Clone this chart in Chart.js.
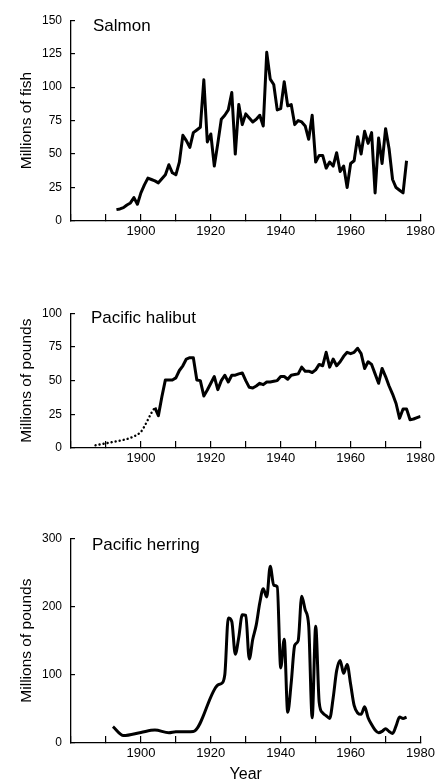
<!DOCTYPE html>
<html>
<head>
<meta charset="utf-8">
<script src="https://cdn.jsdelivr.net/npm/chart.js@4"></script>
<style>
  html, body { margin: 0; padding: 0; background: #fff; }
  body { width: 445px; height: 783px; position: relative; overflow: hidden; }
  canvas { position: absolute; left: 0; }
</style>
</head>
<body>
<canvas id="salmonChart" width="445" height="250" style="top:0px"></canvas>
<canvas id="halibutChart" width="445" height="184" style="top:293px"></canvas>
<canvas id="herringChart" width="445" height="265" style="top:518px"></canvas>
<script>
// Catch data (years, values)

const yearLabels = [1900, 1920, 1940, 1960, 1980];

const salmonYears = [1893, 1894, 1895, 1896, 1897, 1898, 1899, 1900, 1901, 1902, 1903, 1904, 1905, 1906, 1907, 1908, 1909, 1910,
    1911, 1912, 1913, 1914, 1915, 1916, 1917, 1918, 1919, 1920, 1921, 1922, 1923, 1924, 1925, 1926, 1927, 1928, 1929, 1930,
    1931, 1932, 1933, 1934, 1935, 1936, 1937, 1938, 1939, 1940, 1941, 1942, 1943, 1944, 1945, 1946, 1947, 1948, 1949, 1950,
    1951, 1952, 1953, 1954, 1955, 1956, 1957, 1958, 1959, 1960, 1961, 1962, 1963, 1964, 1965, 1966, 1967, 1968, 1969, 1970,
    1971, 1972, 1973, 1974, 1975, 1976];
const salmonFish = [8.5, 9, 10, 12, 13.5, 17.5, 12.5, 21, 27, 32, 31, 30, 28.5, 31.5, 34.5, 42, 36, 34.5,
    44, 64, 60, 55, 66, 68, 70, 105.5, 59, 65, 41, 58, 76, 79, 83, 96, 50, 87, 72, 80,
    77, 74, 76, 79, 71, 126, 106, 102, 83, 84, 104, 86, 87, 72, 75, 74, 71, 61, 79, 44,
    49, 49, 39.5, 44, 41, 51, 37, 41, 25, 43, 45, 63, 50, 67, 58, 66, 21, 62, 43, 69,
    54, 31, 25, 23, 21, 45];

// early halibut estimates (dotted part)
const halibutEarlyYears = [1887, 1889, 1891, 1893, 1895, 1897, 1899, 1900, 1901, 1902, 1903, 1904];
const halibutEarlyLbs = [2, 3, 4, 5, 6, 7.5, 10, 12, 16, 21, 26, 30];

const halibutYears = [1904, 1905, 1906, 1907, 1908, 1909, 1910, 1911, 1912, 1913, 1914, 1915, 1916, 1917, 1918, 1919, 1920,
    1921, 1922, 1923, 1924, 1925, 1926, 1927, 1928, 1929, 1930, 1931, 1932, 1933, 1934, 1935, 1936, 1937, 1938, 1939, 1940,
    1941, 1942, 1943, 1944, 1945, 1946, 1947, 1948, 1949, 1950, 1951, 1952, 1953, 1954, 1955, 1956, 1957, 1958, 1959, 1960,
    1961, 1962, 1963, 1964, 1965, 1966, 1967, 1968, 1969, 1970, 1971, 1972, 1973, 1974, 1975, 1976, 1977, 1978, 1979, 1980];
const halibutLbs = [30, 24, 38, 50.5, 50.5, 50.5, 52, 57.5, 61, 66, 67, 67, 50.5, 50, 38.6, 43, 48,
    53, 43.3, 50, 54, 49, 54, 54, 55, 55.7, 50, 45, 44.5, 46, 48, 47, 49, 49, 49.5, 50, 53,
    53, 51, 54, 54.5, 55, 60, 57, 57, 56, 58, 62, 61, 71, 60, 66, 61, 64, 68, 71, 70,
    71, 74, 70, 59, 64, 62, 55, 48, 59, 53, 46, 40, 33, 22, 29, 29, 21, 21.5, 22.5, 23.5];

const herringYears = [1892, 1895, 1900, 1904, 1908, 1910, 1915, 1922, 1923, 1924, 1925, 1926, 1927, 1928, 1929, 1930,
    1931, 1932, 1933, 1934, 1935, 1936, 1937, 1938, 1939, 1940, 1941, 1942, 1943, 1944, 1945, 1946, 1947, 1948, 1949, 1950,
    1951, 1952, 1953, 1954, 1955, 1956, 1957, 1958, 1959, 1960, 1961, 1962, 1963, 1964, 1965, 1966, 1967, 1968, 1969, 1970,
    1971, 1972, 1973, 1974, 1975, 1976];
const herringLbs = [24, 11, 15.5, 19, 15, 16.5, 17, 85, 87, 100, 183, 178, 130, 155, 188, 187,
    123, 152, 173, 205, 226, 214, 259, 231, 229, 110, 152, 45, 88, 143, 150, 215, 195, 172, 37, 171,
    60, 44, 40, 36, 66, 106, 121, 102, 115, 86, 55, 44, 42, 53, 37, 27, 19, 15, 17, 21,
    17, 14, 25, 38, 36, 38];

Chart.defaults.font.family = '"Liberation Sans", Arial, Helvetica, sans-serif';
Chart.defaults.color = '#000';

function toPoints(xs, ys) {
    return xs.map((x, i) => ({ x: x, y: ys[i] }));
}

// panel name drawn inside the plot area, top left
const panelName = {
    id: 'panelName',
    afterDraw(chart, args, opts) {
        const { ctx, chartArea } = chart;
        ctx.save();
        ctx.font = '17px "Liberation Sans", Arial, sans-serif';
        ctx.fillStyle = '#000';
        ctx.textBaseline = 'alphabetic';
        ctx.fillText(opts.text, chartArea.left + opts.dx, chartArea.top + opts.dy);
        ctx.restore();
    }
};

function buildPanel(id, cfg) {
    return new Chart(document.getElementById(id), {
        type: 'line',
        data: { datasets: cfg.datasets },
        options: {
            responsive: false,
            animation: false,
            events: [],
            layout: { padding: { top: 15, right: 24, left: 0, bottom: 0 } },
            elements: {
                point: { radius: 0 },
                line: { borderWidth: 3, borderColor: '#000', borderJoinStyle: 'round', tension: 0, fill: false }
            },
            plugins: {
                legend: { display: false },
                tooltip: { enabled: false },
                panelName: { text: cfg.name, dx: cfg.nameDx, dy: cfg.nameDy }
            },
            scales: {
                x: {
                    type: 'linear',
                    min: 1880,
                    max: 1980,
                    border: { color: '#000', width: 1.3 },
                    grid: { drawOnChartArea: false, drawTicks: true, tickLength: -7, color: '#000', lineWidth: 1.2 },
                    ticks: {
                        stepSize: 10,
                        autoSkip: false,
                        maxRotation: 0,
                        padding: 10,
                        font: { size: 13 },
                        callback: v => yearLabels.includes(v) ? String(v) : ''
                    },
                    title: {
                        display: !!cfg.xTitle,
                        text: cfg.xTitle || '',
                        font: { size: 16, lineHeight: 1 },
                        padding: { top: 0, bottom: 0 }
                    },
                    afterFit: s => { s.height = cfg.xHeight; }
                },
                y: {
                    min: 0,
                    max: cfg.yMax,
                    border: { color: '#000', width: 1.3 },
                    grid: { drawOnChartArea: false, drawTicks: true, tickLength: -4, color: '#000', lineWidth: 1.2 },
                    ticks: { stepSize: cfg.yStep, padding: 13, font: { size: 12 } },
                    title: {
                        display: true,
                        text: cfg.yTitle,
                        font: { size: 15.5 },
                        padding: { top: 17.5, bottom: 0 }
                    },
                    afterFit: s => { s.width = 71; }
                }
            }
        },
        plugins: [panelName]
    });
}

buildPanel('salmonChart', {
    name: 'Salmon', nameDx: 22, nameDy: 10.5,
    yTitle: 'Millions of fish', yMax: 150, yStep: 25, xHeight: 29,
    datasets: [{ data: toPoints(salmonYears, salmonFish) }]
});

buildPanel('halibutChart', {
    name: 'Pacific halibut', nameDx: 20, nameDy: 10,
    yTitle: 'Millions of pounds', yMax: 100, yStep: 25, xHeight: 29,
    datasets: [
        { data: toPoints(halibutEarlyYears, halibutEarlyLbs), borderWidth: 2.4, borderDash: [0.1, 4], borderCapStyle: 'round', cubicInterpolationMode: 'monotone' },
        { data: toPoints(halibutYears, halibutLbs) }
    ]
});

buildPanel('herringChart', {
    name: 'Pacific herring', nameDx: 21, nameDy: 12,
    yTitle: 'Millions of pounds', yMax: 300, yStep: 100, xHeight: 40, xTitle: 'Year',
    datasets: [{ data: toPoints(herringYears, herringLbs), cubicInterpolationMode: 'monotone' }]
});
</script>
</body>
</html>
